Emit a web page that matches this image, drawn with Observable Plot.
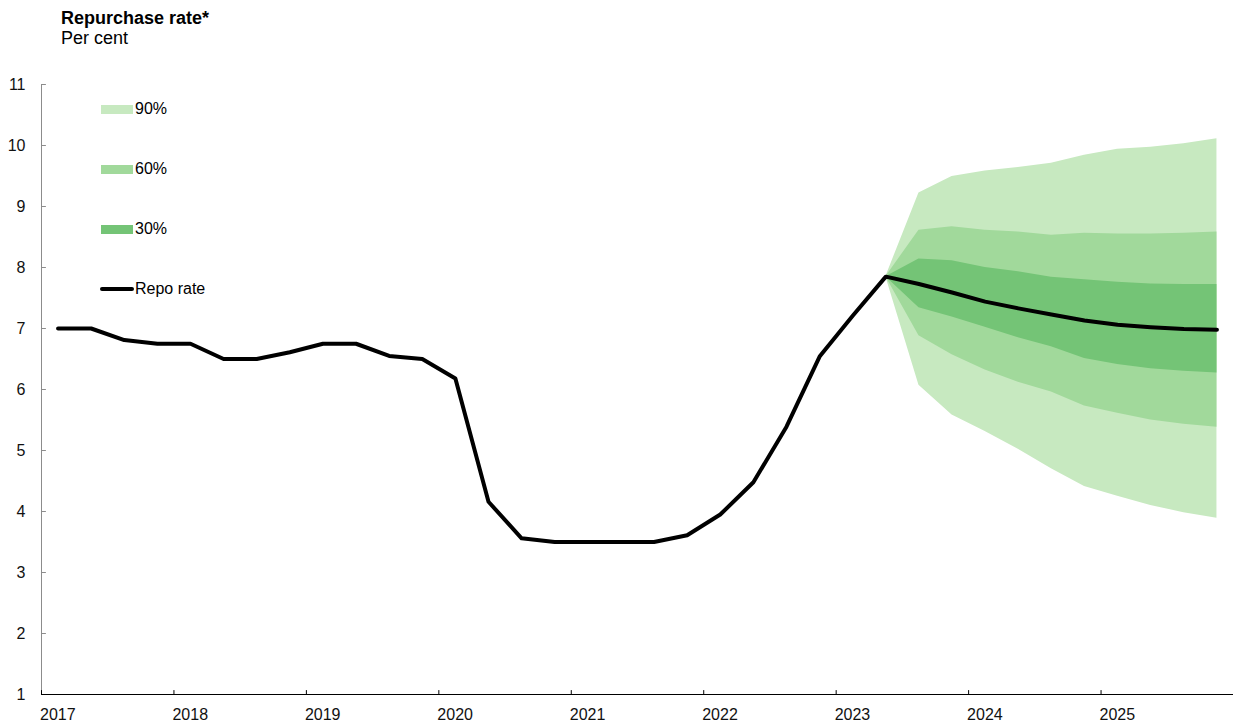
<!DOCTYPE html>
<html>
<head>
<meta charset="utf-8">
<script src="https://cdn.jsdelivr.net/npm/d3@7"></script>
<script src="https://cdn.jsdelivr.net/npm/@observablehq/plot@0.6"></script>
<style>
  body { margin: 0; background: #fff; }
  #wrap { position: relative; width: 1233px; height: 726px; font-family: "Liberation Sans", Arial, sans-serif; color: #000; }
  .title { position: absolute; left: 61px; top: 8px; font-size: 18px; line-height: 20px; font-weight: bold; }
  .subtitle { position: absolute; left: 61px; top: 28px; font-size: 18px; line-height: 20px; }
  #chart { position: absolute; left: 0; top: 50px; }
  .leg { position: absolute; left: 101px; font-size: 16px; line-height: 18px; }
  .leg .sw { position: absolute; left: 0; width: 32px; height: 9px; }
  .leg .ln { position: absolute; left: -1px; width: 34px; height: 4px; border-radius: 2px; background: #000; }
  .leg .lab { position: absolute; left: 34px; top: 0; white-space: nowrap; }
</style>
</head>
<body>
<div id="wrap">
  <div class="title">Repurchase rate*</div>
  <div class="subtitle">Per cent</div>
  <div id="chart"></div>
  <div id="legend"></div>
</div>
<script>
// ---- Data ----
const histQuarters = [
  "2017Q1","2017Q2","2017Q3","2017Q4",
  "2018Q1","2018Q2","2018Q3","2018Q4",
  "2019Q1","2019Q2","2019Q3","2019Q4",
  "2020Q1","2020Q2","2020Q3","2020Q4",
  "2021Q1","2021Q2","2021Q3","2021Q4",
  "2022Q1","2022Q2","2022Q3","2022Q4",
  "2023Q1"
];
const histRepo = [
  7.00, 7.00, 6.81, 6.75,
  6.75, 6.50, 6.50, 6.61,
  6.75, 6.75, 6.55, 6.50,
  6.18, 4.16, 3.56, 3.50,
  3.50, 3.50, 3.50, 3.61,
  3.95, 4.48, 5.39, 6.54,
  7.21
];
const fcQuarters = ["2023Q2","2023Q3","2023Q4","2024Q1","2024Q2","2024Q3","2024Q4","2025Q1","2025Q2","2025Q3","2025Q4"];
const fcCentral = [7.85, 7.73, 7.59, 7.44, 7.33, 7.23, 7.13, 7.06, 7.02, 6.99, 6.98];
const upper90  = [7.85, 9.22, 9.49, 9.58, 9.64, 9.71, 9.84, 9.94, 9.97, 10.03, 10.11];
const upper60  = [7.85, 8.61, 8.67, 8.61, 8.58, 8.53, 8.56, 8.55, 8.55, 8.56, 8.58];
const upper30  = [7.85, 8.14, 8.11, 8.00, 7.93, 7.84, 7.80, 7.76, 7.73, 7.72, 7.72];
const lower30  = [7.85, 7.34, 7.19, 7.02, 6.85, 6.70, 6.51, 6.41, 6.34, 6.30, 6.27];
const lower60  = [7.85, 6.88, 6.57, 6.32, 6.12, 5.96, 5.73, 5.61, 5.50, 5.43, 5.38];
const lower90  = [7.85, 6.07, 5.58, 5.31, 5.02, 4.70, 4.41, 4.25, 4.10, 3.98, 3.89];

const bandNames = ["90%", "60%", "30%"];
const bandColors = ["#c7e9c0", "#a1d99b", "#74c476"];
const lineLabel = "Repo rate";

const yTicks = [1,2,3,4,5,6,7,8,9,10,11];
const xTickYears = [2017,2018,2019,2020,2021,2022,2023,2024,2025,2026];
const xLabelYears = [2017,2018,2019,2020,2021,2022,2023,2024,2025];

// ---- Build tables ----
const qx = q => +q.slice(0, 4) + (+q.slice(5) - 0.5) / 4;
const lineData = histQuarters.map((q, i) => ({x: qx(q), y: histRepo[i]}))
  .concat(fcQuarters.map((q, i) => ({x: qx(q), y: fcCentral[i]})));
const bands = [[lower90, upper90], [lower60, upper60], [lower30, upper30]];
const bandData = bands.flatMap(([lo, hi], b) =>
  fcQuarters.map((q, i) => ({band: bandNames[b], x: qx(q), lo: lo[i], hi: hi[i]})));

const tickShape = { draw(context, l) { context.moveTo(0, 0); context.lineTo(0, -l); } };
const x0 = xTickYears[0], x1 = xTickYears[xTickYears.length - 1];
const y0 = yTicks[0], y1 = yTicks[yTicks.length - 1];

const chart = Plot.plot({
  width: 1233,
  height: 676,
  marginLeft: 41,
  marginRight: 0,
  marginTop: 34,
  marginBottom: 32,
  style: { fontFamily: "'Liberation Sans', Arial, sans-serif", fontSize: "16px", color: "#000", background: "#fff" },
  x: { domain: [x0, x1], axis: null },
  y: { domain: [y0, y1], axis: null },
  color: { domain: bandNames, range: bandColors },
  marks: [
    ...bandNames.map(name => Plot.areaY(bandData.filter(d => d.band === name),
      { x: "x", y1: "lo", y2: "hi", fill: "band", curve: "linear" })),
    Plot.ruleX([x0], { y1: y0, y2: y1, stroke: "#8c8c8c", strokeWidth: 1 }),
    Plot.vector(yTicks, { x: () => x0, y: d => d, length: 4, rotate: 90, anchor: "start", shape: tickShape, stroke: "#8c8c8c", strokeWidth: 1 }),
    Plot.ruleY([y0], { x1: x0, x2: x1, stroke: "#000", strokeWidth: 1 }),
    Plot.vector(xTickYears, { x: d => d, y: () => y0, length: 4, rotate: 0, anchor: "start", shape: tickShape, stroke: "#000", strokeWidth: 1 }),
    Plot.axisY({ ticks: yTicks, tickSize: 0, tickPadding: 16, fontSize: 16, tickFormat: d => String(d), fill: "#111" }),
    Plot.text(xLabelYears, { x: d => d, y: () => y0, text: d => String(d), dy: 20, dx: -1.5, textAnchor: "start", fontSize: 16, fill: "#111" }),
    Plot.line(lineData, { x: "x", y: "y", stroke: "#000", strokeWidth: 4, strokeLinejoin: "round", strokeLinecap: "round" })
  ]
});
document.getElementById("chart").appendChild(chart);

// ---- Legend ----
const legend = document.getElementById("legend");
const rowsTop = [100, 160, 220, 280];
bandNames.slice().forEach((name, i) => {
  const row = document.createElement("div");
  row.className = "leg";
  row.style.top = rowsTop[i] + "px";
  row.innerHTML = `<div class="sw" style="top:4.5px;background:${bandColors[i]}"></div><div class="lab">${name}</div>`;
  legend.appendChild(row);
});
const lr = document.createElement("div");
lr.className = "leg";
lr.style.top = rowsTop[3] + "px";
lr.innerHTML = `<div class="ln" style="top:7px"></div><div class="lab">${lineLabel}</div>`;
legend.appendChild(lr);
</script>
</body>
</html>
